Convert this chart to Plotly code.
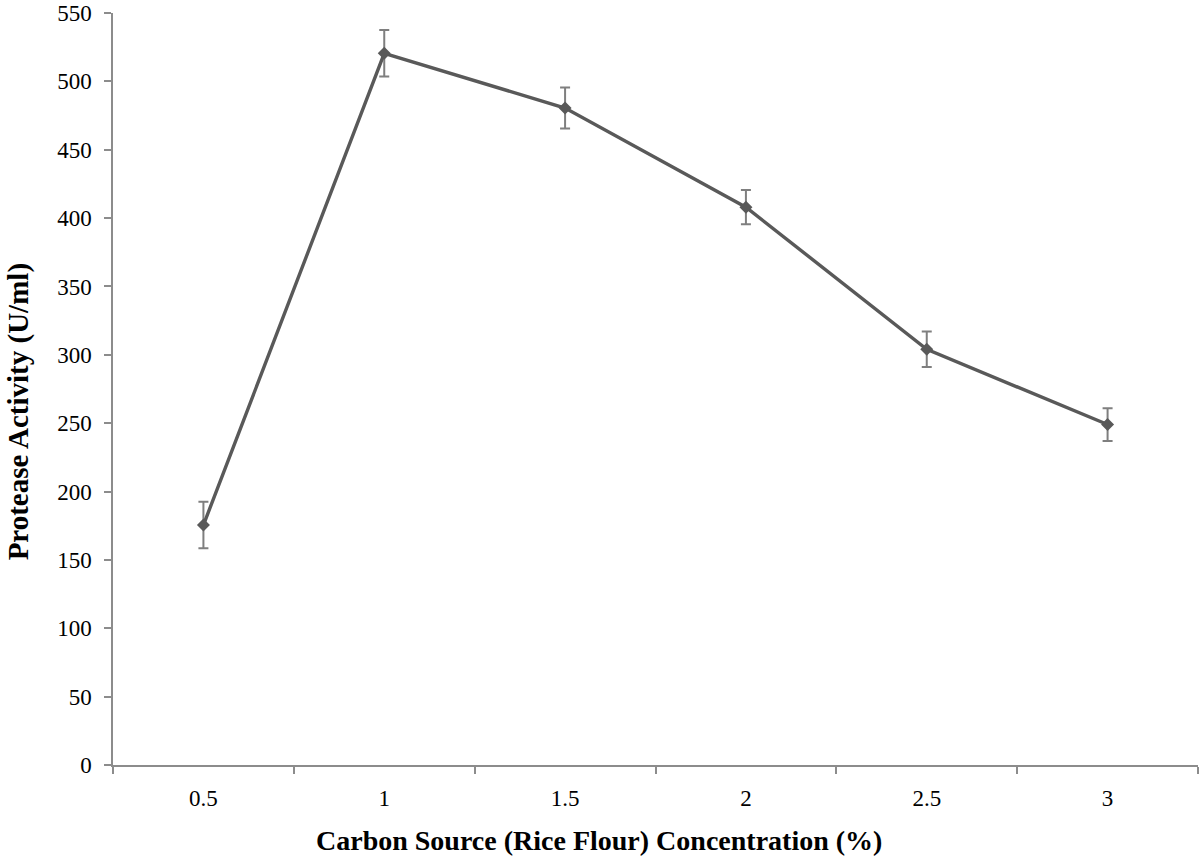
import plotly.graph_objects as go

concentrations = ["0.5", "1", "1.5", "2", "2.5", "3"]
activity = [175.5, 520.5, 480.5, 408, 304, 249]
errors = [17, 17, 15, 12.5, 13, 12]
y_ticks = [0, 50, 100, 150, 200, 250, 300, 350, 400, 450, 500, 550]

fig = go.Figure()
fig.add_trace(go.Scatter(
    x=concentrations, y=activity,
    mode="lines+markers",
    line=dict(color="#595959", width=3.4),
    marker=dict(symbol="diamond", size=10, color="#595959"),
    error_y=dict(type="data", array=errors, visible=True,
                 color="#7f7f7f", thickness=2, width=5),
    showlegend=False,
))

axis_color = "#8c8c8c"
fig.update_layout(
    width=1200, height=859,
    margin=dict(l=113, r=2, t=13, b=94),
    paper_bgcolor="white", plot_bgcolor="white",
    font=dict(family="Liberation Serif, Times New Roman, serif", color="black"),
    xaxis=dict(
        type="category", tickson="boundaries",
        range=[-0.5, 5.5],
        showline=True, linecolor=axis_color, linewidth=1.5,
        ticks="outside", ticklen=7, tickcolor=axis_color, tickwidth=1.5,
        showgrid=False, zeroline=False,
        tickfont=dict(size=23), ticklabelstandoff=12,
    ),
    yaxis=dict(
        range=[0, 550], tickvals=y_ticks,
        showline=True, linecolor=axis_color, linewidth=1.5,
        ticks="outside", ticklen=7, tickcolor=axis_color, tickwidth=1.5,
        showgrid=False, zeroline=False,
        tickfont=dict(size=23), ticklabelstandoff=8,
    ),
    annotations=[
        dict(text="<b>Carbon Source (Rice Flour) Concentration (%)</b>",
             xref="paper", yref="paper", x=0.448, y=-0.101,
             xanchor="center", yanchor="middle", showarrow=False,
             font=dict(size=28)),
        dict(text="<b>Protease Activity (U/ml)</b>",
             xref="paper", yref="paper", x=-0.0875, y=0.469,
             xanchor="center", yanchor="middle", showarrow=False,
             textangle=-90, font=dict(size=29)),
    ],
)

fig.write_html("out.html", config={"displayModeBar": False},
               post_script="document.body.style.margin='0';")
